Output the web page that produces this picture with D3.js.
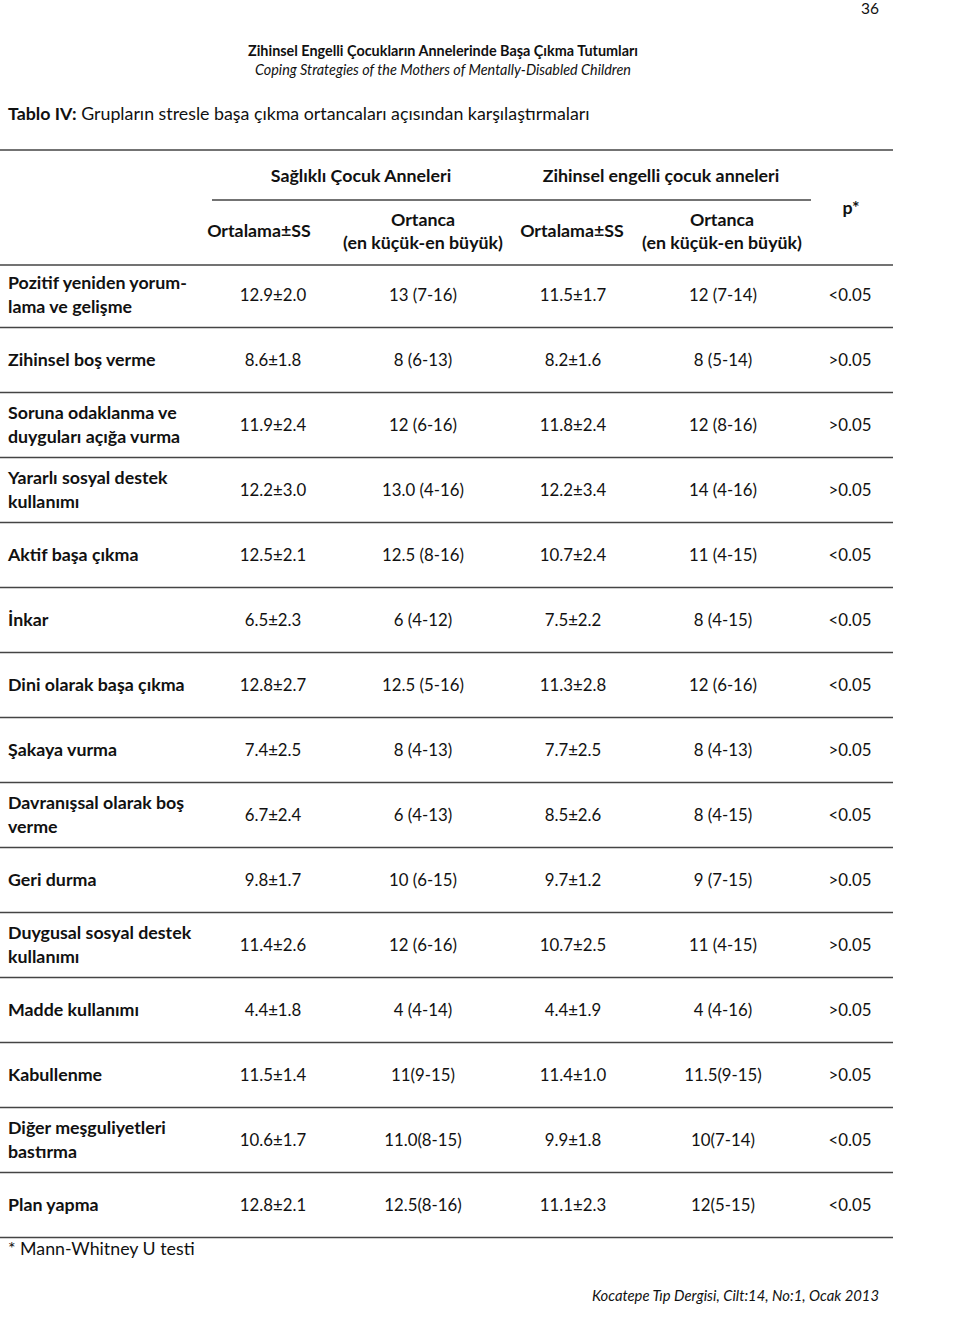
<!DOCTYPE html>
<html><head><meta charset="utf-8">
<script src="https://cdn.jsdelivr.net/npm/d3@7"></script>
<style>
html,body{margin:0;padding:0;background:#fff;}
svg text{font-family:Lato,"Open Sans",sans-serif;fill:#111;}
</style></head>
<body><svg id="c" width="960" height="1323"></svg>
<script>
const categories = [
  ["Pozitif yeniden yorum-","lama ve gelişme"],
  ["Zihinsel boş verme"],
  ["Soruna odaklanma ve","duyguları açığa vurma"],
  ["Yararlı sosyal destek","kullanımı"],
  ["Aktif başa çıkma"],
  ["İnkar"],
  ["Dini olarak başa çıkma"],
  ["Şakaya vurma"],
  ["Davranışsal olarak boş","verme"],
  ["Geri durma"],
  ["Duygusal sosyal destek","kullanımı"],
  ["Madde kullanımı"],
  ["Kabullenme"],
  ["Diğer meşguliyetleri","bastırma"],
  ["Plan yapma"]
];
const healthyMeanSD = ["12.9±2.0","8.6±1.8","11.9±2.4","12.2±3.0","12.5±2.1","6.5±2.3","12.8±2.7","7.4±2.5","6.7±2.4","9.8±1.7","11.4±2.6","4.4±1.8","11.5±1.4","10.6±1.7","12.8±2.1"];
const healthyMedian = ["13 (7-16)","8 (6-13)","12 (6-16)","13.0 (4-16)","12.5 (8-16)","6 (4-12)","12.5 (5-16)","8 (4-13)","6 (4-13)","10 (6-15)","12 (6-16)","4 (4-14)","11(9-15)","11.0(8-15)","12.5(8-16)"];
const disabledMeanSD = ["11.5±1.7","8.2±1.6","11.8±2.4","12.2±3.4","10.7±2.4","7.5±2.2","11.3±2.8","7.7±2.5","8.5±2.6","9.7±1.2","10.7±2.5","4.4±1.9","11.4±1.0","9.9±1.8","11.1±2.3"];
const disabledMedian = ["12 (7-14)","8 (5-14)","12 (8-16)","14 (4-16)","11 (4-15)","8 (4-15)","12 (6-16)","8 (4-13)","8 (4-15)","9 (7-15)","11 (4-15)","4 (4-16)","11.5(9-15)","10(7-14)","12(5-15)"];
const pValues = ["<0.05",">0.05",">0.05",">0.05","<0.05","<0.05","<0.05",">0.05","<0.05",">0.05",">0.05",">0.05",">0.05","<0.05","<0.05"];
const groupHeaders = ["Sağlıklı Çocuk Anneleri","Zihinsel engelli çocuk anneleri"];
const colHeaders = [["Ortalama±SS"],["Ortanca","(en küçük-en büyük)"],["Ortalama±SS"],["Ortanca","(en küçük-en büyük)"]];

const svg = d3.select("#c");
const FS = 17.8;   // labels / headers
const VS = 16.8;   // values
const lineColor = "#444";

// page header
svg.append("text").attr("x",879).attr("y",14).attr("text-anchor","end").attr("font-size",15.5).text("36");
svg.append("text").attr("x",443).attr("y",56).attr("text-anchor","middle").attr("font-size",14.4).attr("font-weight","bold").text("Zihinsel Engelli Çocukların Annelerinde Başa Çıkma Tutumları");
svg.append("text").attr("x",443).attr("y",75).attr("text-anchor","middle").attr("font-size",14.4).attr("font-style","italic").text("Coping Strategies of the Mothers of Mentally-Disabled Children");

const title = svg.append("text").attr("x",8).attr("y",120).attr("font-size",FS);
title.append("tspan").attr("font-weight","bold").text("Tablo IV:");
title.append("tspan").text(" Grupların stresle başa çıkma ortancaları açısından karşılaştırmaları");

// scales
const idx = d3.range(categories.length);
const y = d3.scaleLinear().domain([0, categories.length-1]).range([295, 1205]);
const colX = d3.scaleOrdinal().domain([0,1,2,3,4]).range([273,423,573,723,850]);
const headX = d3.scaleOrdinal().domain([0,1,2,3]).range([259,423,572,722]);
const xLine = d3.scaleLinear().domain([0,1]).range([0,893]);

// table rules
function rule(yy, x0, x1){
  svg.append("line").attr("x1",x0).attr("x2",x1).attr("y1",yy).attr("y2",yy)
    .attr("stroke",lineColor).attr("stroke-width",1.6);
}
rule(150, xLine(0), xLine(1));
rule(200, 212, 811);
rule(265, xLine(0), xLine(1));
idx.forEach(i => rule(y(i)+32.5, xLine(0), xLine(1)));

// headers
svg.selectAll("text.gh").data(groupHeaders).join("text").attr("class","gh")
  .attr("x",(d,i)=> i===0 ? 361 : 661).attr("y",182).attr("text-anchor","middle")
  .attr("font-size",FS).attr("font-weight","bold").text(d=>d);

colHeaders.forEach((lines,ci)=>{
  const t = svg.append("text").attr("text-anchor","middle").attr("font-size",FS).attr("font-weight","bold");
  const n = lines.length;
  lines.forEach((l,k)=>{
    t.append("tspan").attr("x",headX(ci)).attr("y", 237 + (k-(n-1)/2)*23).text(l);
  });
});
svg.append("text").attr("x",851).attr("y",214).attr("text-anchor","middle").attr("font-size",FS).attr("font-weight","bold").text("p*");

// row labels and values
const rows = svg.selectAll("g.row").data(idx).join("g").attr("class","row");
rows.each(function(i){
  const g = d3.select(this);
  const lines = categories[i];
  const n = lines.length;
  const t = g.append("text").attr("font-size",FS).attr("font-weight","bold");
  lines.forEach((l,k)=>{
    t.append("tspan").attr("x",8).attr("y", y(i)+6 + (k-(n-1)/2)*23.5).text(l);
  });
  const vals = [healthyMeanSD[i], healthyMedian[i], disabledMeanSD[i], disabledMedian[i], pValues[i]];
  vals.forEach((v,c)=>{
    g.append("text").attr("x",colX(c)).attr("y",y(i)+6).attr("text-anchor","middle").attr("font-size",VS).text(v);
  });
});

// footnote & footer
svg.append("text").attr("x",8).attr("y",1255).attr("font-size",FS).text("* Mann-Whitney U testi");
svg.append("text").attr("x",879).attr("y",1301).attr("text-anchor","end").attr("font-size",14.8).attr("font-style","italic").text("Kocatepe Tıp Dergisi, Cilt:14,  No:1, Ocak 2013");
</script></body></html>
